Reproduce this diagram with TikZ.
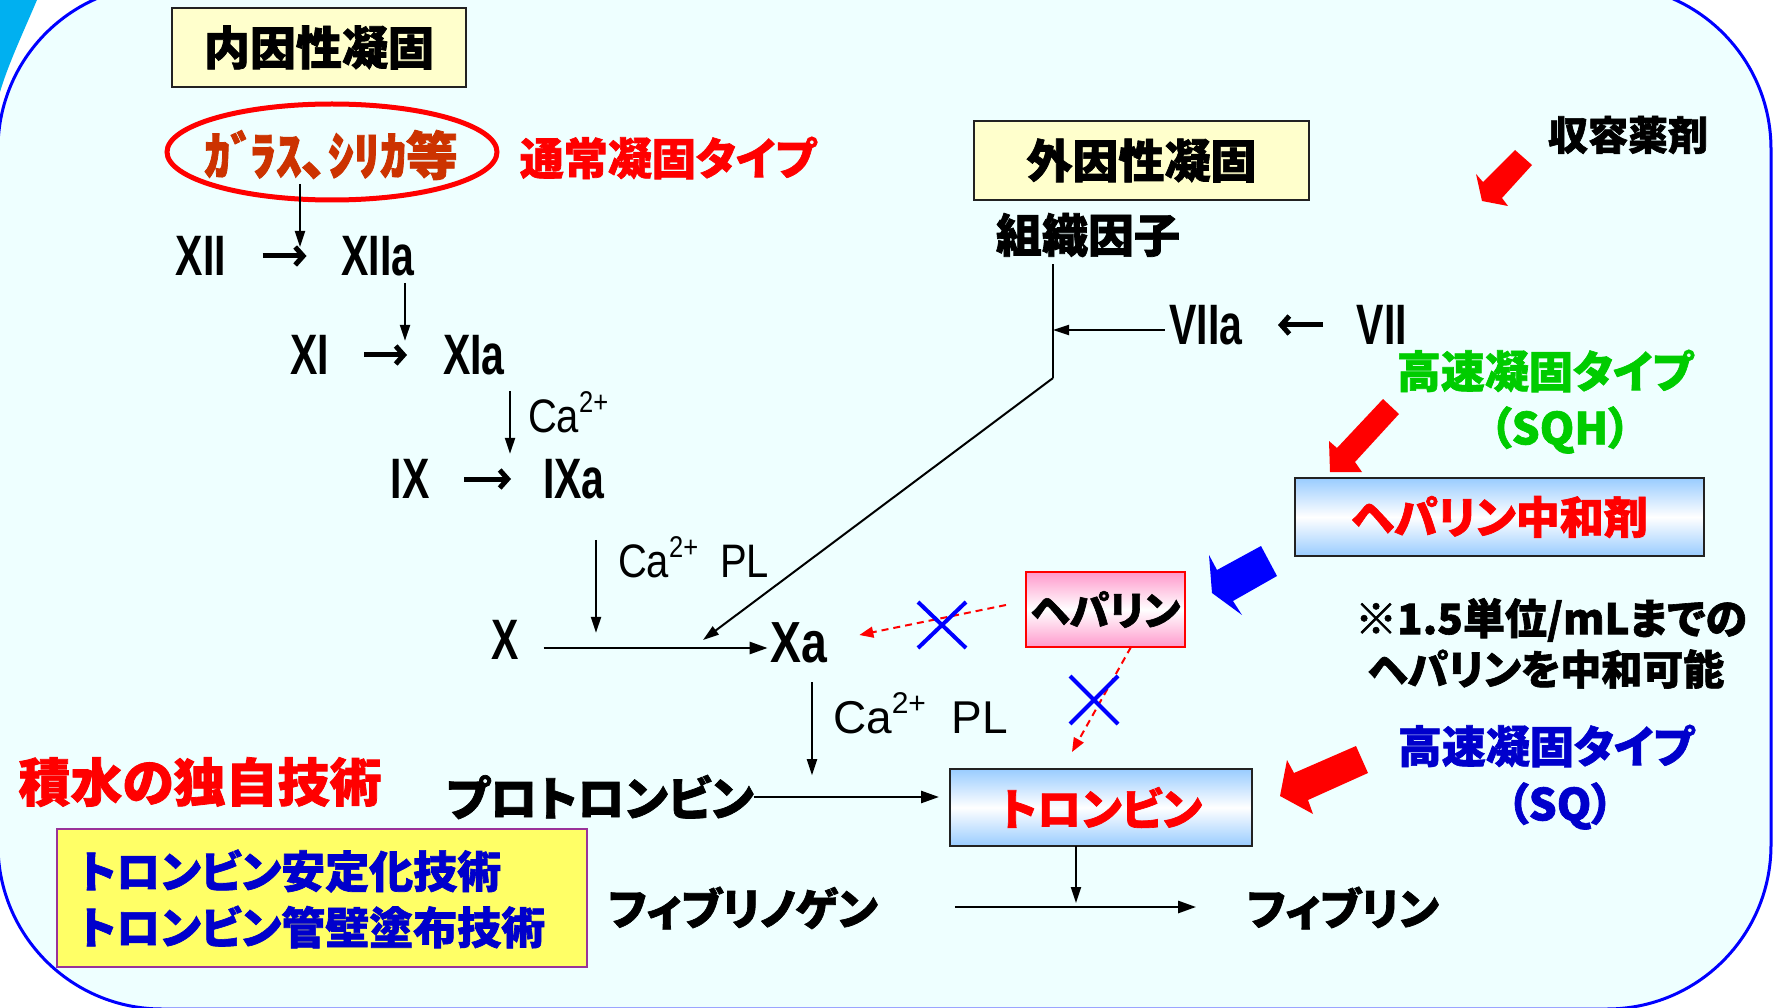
\documentclass[tikz,border=0pt]{standalone}
\usepackage{fontspec}
\newfontfamily\jp[RawFeature={+palt},BoldFeatures={FakeBold=1.5}]{Noto Sans CJK JP}
\newfontfamily\latc[FakeStretch=0.72]{Liberation Sans}
\newfontfamily\latx[FakeStretch=0.8]{Liberation Sans}
\newfontfamily\latm[FakeStretch=0.85]{Liberation Sans}
\newfontfamily\latn{Liberation Sans}
\usetikzlibrary{arrows.meta,shapes.geometric,calc}
\newcommand\fsz[1]{\fontsize{#1}{#1}\selectfont}
\definecolor{bgc}{RGB}{238,255,255}
\definecolor{framec}{RGB}{0,0,255}
\definecolor{swoosh}{RGB}{0,176,240}
\definecolor{boxyel}{RGB}{255,255,204}
\definecolor{boxline}{RGB}{34,34,34}
\definecolor{glassc}{RGB}{204,51,0}
\definecolor{greenc}{RGB}{0,204,0}
\definecolor{bluetxt}{RGB}{0,0,204}
\definecolor{gblue}{RGB}{153,204,255}
\definecolor{gpink}{RGB}{255,153,204}
\definecolor{ybox}{RGB}{255,255,102}
\definecolor{purp}{RGB}{153,51,153}
\definecolor{xblue}{RGB}{0,0,255}
\begin{document}
\begin{tikzpicture}[x=1pt,y=-1pt,
  every node/.style={inner sep=0pt, outer sep=0pt},
  jpf/.style={font=\jp\bfseries\fsz{#1}},
  latb/.style={font=\latc\bfseries\fsz{57}},
  arr/.style={draw=black, line width=2pt, -{Triangle[length=16pt,width=10pt]}},
  arrw/.style={draw=black, line width=2.6pt, -{Triangle[length=18pt,width=12pt]}},
  rarr/.style={draw=black, line width=5pt, -{Straight Barb[length=8pt,width=18pt]}},
  rdash/.style={draw=red, line width=2pt, dash pattern=on 7pt off 5pt, -{Triangle[length=14pt,width=11pt]}},
  bx/.style={line width=4pt, draw=xblue},
  gbox/.style={draw=boxline, line width=2.5pt, top color=gblue, bottom color=gblue, middle color=white},
  pbox/.style={draw=red, line width=2pt, top color=gpink, bottom color=gpink, middle color=white},
  fat/.style={fill=#1, draw=none},
]
\useasboundingbox (0,0) rectangle (1773,1008);
\fill[white] (0,0) rectangle (1773,1008);
\begin{scope}
  \clip (0,0) rectangle (1773,1008);
  \fill[swoosh] (0,0) -- (37,0) .. controls (22,35) and (8,65) .. (0,92) -- cycle;
  \draw[framec, line width=3pt, fill=bgc, rounded corners=164pt] (-2,-15) rectangle (1771,1009);
\end{scope}

% titles
\node[draw=boxline, line width=2.5pt, fill=boxyel, minimum width=294pt, minimum height=79pt, jpf=46] (naiin) at (319,47.5) {内因性凝固};
\node[draw=boxline, line width=2.5pt, fill=boxyel, minimum width=335pt, minimum height=79pt, jpf=46] (gaiin) at (1141.5,160.5) {外因性凝固};

% glass ellipse
\node[ellipse, draw=red, line width=5pt, minimum width=330pt, minimum height=96pt] (ell) at (332,152) {};
\node[text=glassc, jpf=52] (glass) at (331,155) {ｶﾞ\kern-0.12emﾗｽ､ｼﾘｶ等};
\node[text=red, jpf=44] (tsujo) at (668,158) {通常凝固タイプ};

% intrinsic cascade
\node[latb] (n12) at (201,256) {XII};
\node[latb] (n12a) at (378,256) {XIIa};
\node[latb] (n11) at (310,355) {XI};
\node[latb] (n11a) at (474,355) {XIa};
\node[latb] (n9) at (410,479) {IX};
\node[latb] (n9a) at (574,479) {IXa};
\node[latb] (nx) at (505,640) {X};
\node[font=\latx\bfseries\fsz{58}] (nxa) at (799,643) {Xa};

\node[anchor=base west, font=\latm\fsz{47}] (ca1) at (528,432) {Ca\raisebox{0.42em}{\fsz{30}2+}};
\node[anchor=base west, font=\latm\fsz{47}] (ca2) at (618,577) {Ca\raisebox{0.42em}{\fsz{30}2+}\ \ PL};
\node[anchor=base west, font=\latn\fsz{46}] (ca3) at (833,733) {Ca\raisebox{0.42em}{\fsz{30}2+}\ \ PL};

\coordinate (e1) at (300,247);
\draw[arr] (e1 |- ell.center) ++(0,32) -- (e1);
\draw[rarr] ($(n12)!0.5!(n12a)+(-27,0)$) -- ++(44,0);
\draw[arr] ($(n12a.south)+(27,7)$) -- ++(0,58);
\draw[rarr] ($(n11)!0.5!(n11a)+(-28,0)$) -- ++(43,0);
\draw[arr] ($(n11a.south)+(36,16)$) -- ++(0,63);
\draw[rarr] ($(n9)!0.5!(n9a)+(-28,0)$) -- ++(47,0);
\draw[arr] ($(n9a.south)+(22,41)$) -- ++(0,93);
\draw[arrw] ($(nx.east)+(25,8)$) -- ($(nxa.west)+(-3,5)$);

% extrinsic
\node[jpf=46] (tf) at (1088,235) {組織因子};
\node[latb] (n7a) at (1206,325) {VIIa};
\node[latb] (n7) at (1382,325) {VII};
\draw[rarr] ($(n7a)!0.5!(n7)+(29,0)$) -- ++(-45,0);
\coordinate (d1) at (703,640);
\draw[line width=2pt] ($(tf.south)+(-35,7)$) -- ++(0,114) coordinate (tfb);
\draw[arr] (tfb) -- (d1);
\draw[arr] ($(n7a.west)+(-5,5)$) -- (tfb |- 0,330);

% heparin etc
\node[gbox, minimum width=409pt, minimum height=78pt, text=red, jpf=44] (neut) at (1499.5,517) {ヘパリン中和剤};
\node[pbox, minimum width=159pt, minimum height=75pt, jpf=40] (hep) at (1105.5,609.5) {ヘパリン};
\node[gbox, minimum width=302pt, minimum height=77pt, text=red, jpf=44] (thr) at (1101,807.5) {トロンビン};

\node[jpf=40] (shuyo) at (1628,135) {収容薬剤};
\node[text=greenc, jpf=44] (gtype) at (1545,371) {高速凝固タイプ};
\node[text=greenc, jpf=44] (sqh) at (1560,430) {（SQH）};
\node[jpf=42] (note1) at (1551,620) {※1.5単位/mLまでの};
\node[jpf=41] (note2) at (1546,669) {ヘパリンを中和可能};
\node[text=bluetxt, jpf=44] (btype) at (1546,746) {高速凝固タイプ};
\node[text=bluetxt, jpf=44] (sq) at (1560,806) {（SQ）};

\fill[fat=red] (1515,150) -- (1532,165) -- (1502,198) -- (1508,206) -- (1482,201) -- (1476,174) -- (1483,182) -- cycle;
\fill[fat=red] (1383,399) -- (1399,414) -- (1355,462) -- (1362,472) -- (1330,472) -- (1329,441) -- (1337,448) -- cycle;
\fill[fat=xblue] (1261,546) -- (1277,576) -- (1233,601) -- (1242,615) -- (1212,593) -- (1209,555) -- (1217,570) -- cycle;
\fill[fat=red] (1356,746) -- (1368,773) -- (1308,800) -- (1313,814) -- (1280,796) -- (1287,760) -- (1294,773) -- cycle;

\draw[rdash] ($(hep.west)+(-20,-4.5)$) -- ($(nxa.east)+(32,-8)$);
\draw[rdash] ($(hep.south)+(25.5,0)$) -- ($(thr.north)+(-29,-17)$);
\draw[bx] (918,602) -- (966,648) (918,648) -- (966,602);
\draw[bx] (1070,676) -- (1118,724) (1070,724) -- (1118,676);

% prothrombin / fibrin
\node[jpf=47] (pro) at (600,797) {プロトロンビン};
\draw[arrw, shorten >=11pt] (pro.east) -- (pro.east -| thr.west);
\draw[arr] ($(nxa.south)+(13,19)$) -- ++(0,93);
\node[jpf=44] (fibg) at (743,908) {フィブリノゲン};
\node[jpf=44] (fibr) at (1343,908) {フィブリン};
\draw[arrw] ($(fibg.east)+(77,-1)$) -- ($(fibr.west)+(-51,-1)$);
\draw[arr] ($(thr.south)+(-25,0)$) -- ++(0,57);

% Sekisui
\node[text=red, jpf=52] (sek) at (200,782) {積水の独自技術};
\node[draw=purp, line width=2pt, fill=ybox, minimum width=530pt, minimum height=138pt] (yb) at (322,898) {};
\node[anchor=west, text=bluetxt, jpf=44] (yl1) at (79,871) {トロンビン安定化技術};
\node[anchor=west, text=bluetxt, jpf=44] (yl2) at (79,927) {トロンビン管壁塗布技術};
\end{tikzpicture}
\end{document}
